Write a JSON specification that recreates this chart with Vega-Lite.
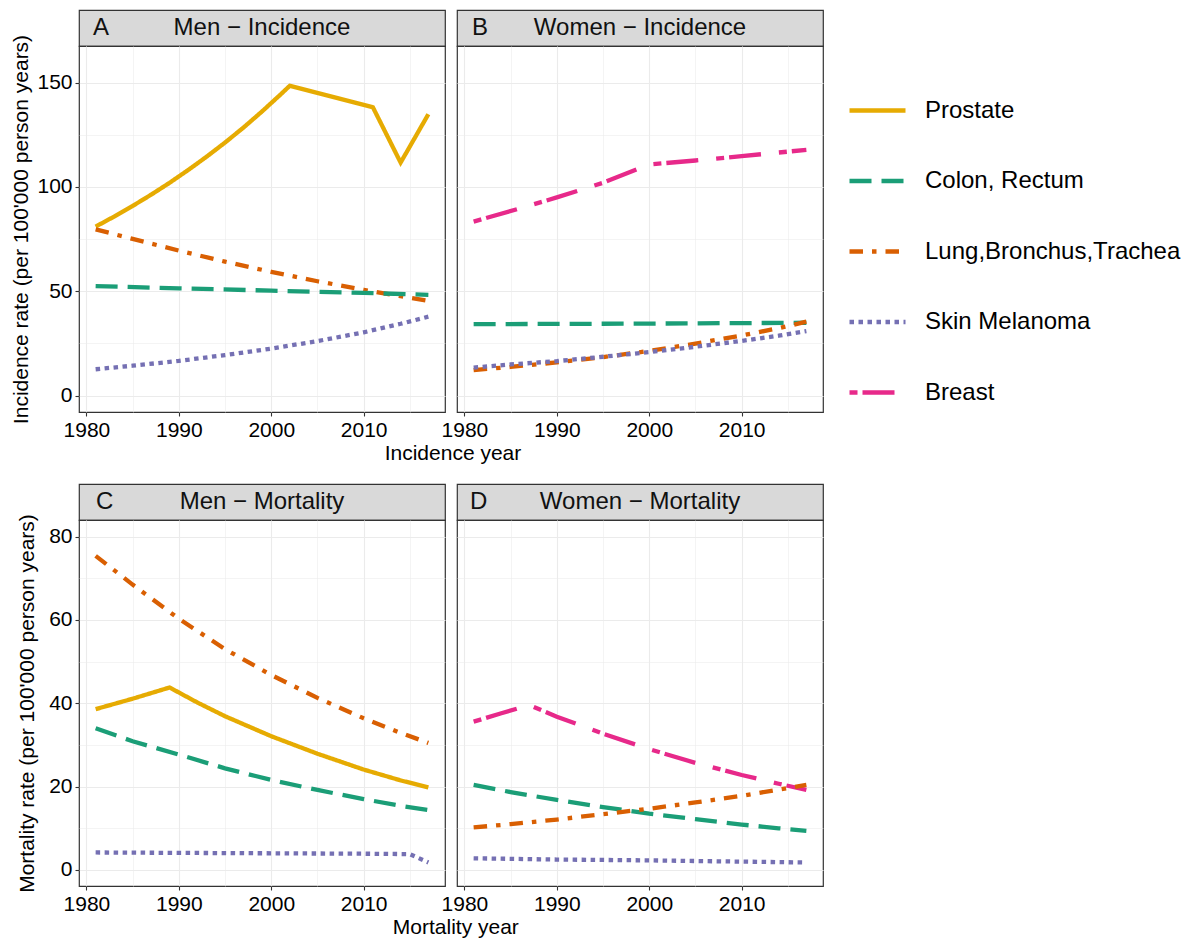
{
  "$schema": "https://vega.github.io/schema/vega-lite/v6.json",
  "padding": {"left": 10, "top": 9, "right": 10, "bottom": 5},
  "background": "white",
  "data": {"values": [
    {"panel":"A","site":"Prostate","year":1981,"rate":81.0},
    {"panel":"A","site":"Prostate","year":1983,"rate":85.8},
    {"panel":"A","site":"Prostate","year":1985,"rate":90.9},
    {"panel":"A","site":"Prostate","year":1987,"rate":96.3},
    {"panel":"A","site":"Prostate","year":1989,"rate":102.0},
    {"panel":"A","site":"Prostate","year":1991,"rate":108.1},
    {"panel":"A","site":"Prostate","year":1993,"rate":114.5},
    {"panel":"A","site":"Prostate","year":1995,"rate":121.3},
    {"panel":"A","site":"Prostate","year":1997,"rate":128.5},
    {"panel":"A","site":"Prostate","year":1999,"rate":136.2},
    {"panel":"A","site":"Prostate","year":2001,"rate":144.3},
    {"panel":"A","site":"Prostate","year":2002,"rate":148.5},
    {"panel":"A","site":"Prostate","year":2011,"rate":138.2},
    {"panel":"A","site":"Prostate","year":2014,"rate":111.7},
    {"panel":"A","site":"Prostate","year":2017,"rate":134.9},
    {"panel":"A","site":"Lung,Bronchus,Trachea","year":1981,"rate":79.7},
    {"panel":"A","site":"Lung,Bronchus,Trachea","year":1985,"rate":75.1},
    {"panel":"A","site":"Lung,Bronchus,Trachea","year":1990,"rate":69.5},
    {"panel":"A","site":"Lung,Bronchus,Trachea","year":1995,"rate":64.2},
    {"panel":"A","site":"Lung,Bronchus,Trachea","year":2000,"rate":59.3},
    {"panel":"A","site":"Lung,Bronchus,Trachea","year":2005,"rate":54.8},
    {"panel":"A","site":"Lung,Bronchus,Trachea","year":2010,"rate":50.7},
    {"panel":"A","site":"Lung,Bronchus,Trachea","year":2014,"rate":47.6},
    {"panel":"A","site":"Lung,Bronchus,Trachea","year":2017,"rate":45.4},
    {"panel":"A","site":"Colon, Rectum","year":1981,"rate":52.5},
    {"panel":"A","site":"Colon, Rectum","year":1990,"rate":51.4},
    {"panel":"A","site":"Colon, Rectum","year":2000,"rate":50.3},
    {"panel":"A","site":"Colon, Rectum","year":2010,"rate":49.2},
    {"panel":"A","site":"Colon, Rectum","year":2017,"rate":48.3},
    {"panel":"A","site":"Skin Melanoma","year":1981,"rate":12.6},
    {"panel":"A","site":"Skin Melanoma","year":1985,"rate":14.3},
    {"panel":"A","site":"Skin Melanoma","year":1990,"rate":16.6},
    {"panel":"A","site":"Skin Melanoma","year":1995,"rate":19.4},
    {"panel":"A","site":"Skin Melanoma","year":2000,"rate":22.5},
    {"panel":"A","site":"Skin Melanoma","year":2005,"rate":26.1},
    {"panel":"A","site":"Skin Melanoma","year":2010,"rate":30.3},
    {"panel":"A","site":"Skin Melanoma","year":2014,"rate":34.4},
    {"panel":"A","site":"Skin Melanoma","year":2017,"rate":37.8},
    {"panel":"B","site":"Breast","year":1981,"rate":83.4},
    {"panel":"B","site":"Breast","year":1986,"rate":89.7},
    {"panel":"B","site":"Breast","year":1990,"rate":95.0},
    {"panel":"B","site":"Breast","year":1995,"rate":102.0},
    {"panel":"B","site":"Breast","year":2000,"rate":110.8},
    {"panel":"B","site":"Breast","year":2005,"rate":112.7},
    {"panel":"B","site":"Breast","year":2010,"rate":114.8},
    {"panel":"B","site":"Breast","year":2017,"rate":117.8},
    {"panel":"B","site":"Colon, Rectum","year":1981,"rate":34.2},
    {"panel":"B","site":"Colon, Rectum","year":2000,"rate":34.5},
    {"panel":"B","site":"Colon, Rectum","year":2017,"rate":34.9},
    {"panel":"B","site":"Lung,Bronchus,Trachea","year":1981,"rate":12.2},
    {"panel":"B","site":"Lung,Bronchus,Trachea","year":1985,"rate":13.7},
    {"panel":"B","site":"Lung,Bronchus,Trachea","year":1990,"rate":15.9},
    {"panel":"B","site":"Lung,Bronchus,Trachea","year":1995,"rate":18.4},
    {"panel":"B","site":"Lung,Bronchus,Trachea","year":2000,"rate":21.4},
    {"panel":"B","site":"Lung,Bronchus,Trachea","year":2005,"rate":24.9},
    {"panel":"B","site":"Lung,Bronchus,Trachea","year":2010,"rate":28.8},
    {"panel":"B","site":"Lung,Bronchus,Trachea","year":2014,"rate":32.3},
    {"panel":"B","site":"Lung,Bronchus,Trachea","year":2017,"rate":35.4},
    {"panel":"B","site":"Skin Melanoma","year":1981,"rate":13.4},
    {"panel":"B","site":"Skin Melanoma","year":1985,"rate":14.9},
    {"panel":"B","site":"Skin Melanoma","year":1990,"rate":16.5},
    {"panel":"B","site":"Skin Melanoma","year":1995,"rate":18.6},
    {"panel":"B","site":"Skin Melanoma","year":2000,"rate":20.8},
    {"panel":"B","site":"Skin Melanoma","year":2005,"rate":23.4},
    {"panel":"B","site":"Skin Melanoma","year":2010,"rate":26.2},
    {"panel":"B","site":"Skin Melanoma","year":2014,"rate":28.7},
    {"panel":"B","site":"Skin Melanoma","year":2017,"rate":30.9},
    {"panel":"C","site":"Lung,Bronchus,Trachea","year":1981,"rate":75.4},
    {"panel":"C","site":"Lung,Bronchus,Trachea","year":1985,"rate":68.5},
    {"panel":"C","site":"Lung,Bronchus,Trachea","year":1990,"rate":60.3},
    {"panel":"C","site":"Lung,Bronchus,Trachea","year":1995,"rate":53.0},
    {"panel":"C","site":"Lung,Bronchus,Trachea","year":2000,"rate":46.8},
    {"panel":"C","site":"Lung,Bronchus,Trachea","year":2005,"rate":41.3},
    {"panel":"C","site":"Lung,Bronchus,Trachea","year":2010,"rate":36.4},
    {"panel":"C","site":"Lung,Bronchus,Trachea","year":2014,"rate":32.9},
    {"panel":"C","site":"Lung,Bronchus,Trachea","year":2017,"rate":30.5},
    {"panel":"C","site":"Prostate","year":1981,"rate":38.6},
    {"panel":"C","site":"Prostate","year":1985,"rate":41.1},
    {"panel":"C","site":"Prostate","year":1989,"rate":43.8},
    {"panel":"C","site":"Prostate","year":1992,"rate":40.2},
    {"panel":"C","site":"Prostate","year":1995,"rate":36.9},
    {"panel":"C","site":"Prostate","year":2000,"rate":32.1},
    {"panel":"C","site":"Prostate","year":2005,"rate":27.9},
    {"panel":"C","site":"Prostate","year":2010,"rate":24.1},
    {"panel":"C","site":"Prostate","year":2014,"rate":21.5},
    {"panel":"C","site":"Prostate","year":2017,"rate":19.8},
    {"panel":"C","site":"Colon, Rectum","year":1981,"rate":34.0},
    {"panel":"C","site":"Colon, Rectum","year":1985,"rate":30.9},
    {"panel":"C","site":"Colon, Rectum","year":1990,"rate":27.7},
    {"panel":"C","site":"Colon, Rectum","year":1995,"rate":24.4},
    {"panel":"C","site":"Colon, Rectum","year":2000,"rate":21.6},
    {"panel":"C","site":"Colon, Rectum","year":2005,"rate":19.2},
    {"panel":"C","site":"Colon, Rectum","year":2010,"rate":17.0},
    {"panel":"C","site":"Colon, Rectum","year":2014,"rate":15.4},
    {"panel":"C","site":"Colon, Rectum","year":2017,"rate":14.4},
    {"panel":"C","site":"Skin Melanoma","year":1981,"rate":4.2},
    {"panel":"C","site":"Skin Melanoma","year":1990,"rate":4.1},
    {"panel":"C","site":"Skin Melanoma","year":2000,"rate":4.0},
    {"panel":"C","site":"Skin Melanoma","year":2010,"rate":3.9},
    {"panel":"C","site":"Skin Melanoma","year":2015,"rate":3.8},
    {"panel":"C","site":"Skin Melanoma","year":2017,"rate":1.8},
    {"panel":"D","site":"Breast","year":1981,"rate":35.6},
    {"panel":"D","site":"Breast","year":1984,"rate":37.6},
    {"panel":"D","site":"Breast","year":1987,"rate":39.6},
    {"panel":"D","site":"Breast","year":1990,"rate":36.8},
    {"panel":"D","site":"Breast","year":1995,"rate":32.7},
    {"panel":"D","site":"Breast","year":2000,"rate":29.0},
    {"panel":"D","site":"Breast","year":2005,"rate":25.7},
    {"panel":"D","site":"Breast","year":2010,"rate":22.8},
    {"panel":"D","site":"Breast","year":2014,"rate":20.7},
    {"panel":"D","site":"Breast","year":2017,"rate":19.2},
    {"panel":"D","site":"Colon, Rectum","year":1981,"rate":20.4},
    {"panel":"D","site":"Colon, Rectum","year":1985,"rate":18.7},
    {"panel":"D","site":"Colon, Rectum","year":1990,"rate":16.8},
    {"panel":"D","site":"Colon, Rectum","year":1995,"rate":15.1},
    {"panel":"D","site":"Colon, Rectum","year":2000,"rate":13.5},
    {"panel":"D","site":"Colon, Rectum","year":2005,"rate":12.2},
    {"panel":"D","site":"Colon, Rectum","year":2010,"rate":10.9},
    {"panel":"D","site":"Colon, Rectum","year":2014,"rate":10.0},
    {"panel":"D","site":"Colon, Rectum","year":2017,"rate":9.4},
    {"panel":"D","site":"Lung,Bronchus,Trachea","year":1981,"rate":10.2},
    {"panel":"D","site":"Lung,Bronchus,Trachea","year":1985,"rate":11.0},
    {"panel":"D","site":"Lung,Bronchus,Trachea","year":1990,"rate":12.1},
    {"panel":"D","site":"Lung,Bronchus,Trachea","year":1995,"rate":13.4},
    {"panel":"D","site":"Lung,Bronchus,Trachea","year":2000,"rate":14.7},
    {"panel":"D","site":"Lung,Bronchus,Trachea","year":2005,"rate":16.2},
    {"panel":"D","site":"Lung,Bronchus,Trachea","year":2010,"rate":17.8},
    {"panel":"D","site":"Lung,Bronchus,Trachea","year":2014,"rate":19.3},
    {"panel":"D","site":"Lung,Bronchus,Trachea","year":2017,"rate":20.4},
    {"panel":"D","site":"Skin Melanoma","year":1981,"rate":2.8},
    {"panel":"D","site":"Skin Melanoma","year":1990,"rate":2.5},
    {"panel":"D","site":"Skin Melanoma","year":2000,"rate":2.3},
    {"panel":"D","site":"Skin Melanoma","year":2010,"rate":2.0},
    {"panel":"D","site":"Skin Melanoma","year":2017,"rate":1.8}
  ]},
  "columns": 1,
  "align": "none",
  "spacing": 19,
  "concat": [
    {
      "title": {"text": "Incidence year", "orient": "bottom", "anchor": "middle", "dx": 36, "offset": 2},
      "spacing": -6,
      "hconcat": [
        {
          "spacing": 0,
          "bounds": "flush",
          "vconcat": [
            {
              "data": {"values": [{"letter": "A", "label": "Men − Incidence"}]},
              "width": 366, "height": 36,
              "view": {"fill": "#D9D9D9", "stroke": "#333333", "strokeWidth": 1.2},
              "layer": [
                {"mark": {"type": "text", "fontSize": 24, "baseline": "middle", "color": "#111111"}, "encoding": {"text": {"field": "label"}}},
                {"mark": {"type": "text", "fontSize": 24, "baseline": "middle", "align": "left", "x": 14, "color": "#111111"}, "encoding": {"text": {"field": "letter"}}}
              ]
            },
            {
              "width": 366, "height": 366,
              "transform": [{"filter": "datum.panel === 'A'"}],
              "mark": {"type": "line", "strokeWidth": 4.3},
              "encoding": {
                "x": {"field": "year", "type": "quantitative", "scale": {"domain": [1979.2, 2018.8], "nice": false, "zero": false},
                      "axis": {"title": null, "format": "d", "values": [1980,1985,1990,1995,2000,2005,2010,2015], "labelExpr": "datum.value % 10 === 0 ? datum.label : ''",
                               "tickOpacity": {"condition": {"test": "datum.value % 10 === 0", "value": 1}, "value": 0},
                               "gridWidth": {"condition": {"test": "datum.value % 10 === 0", "value": 1.1}, "value": 0.55}}},
                "y": {"field": "rate", "type": "quantitative", "scale": {"domain": [-7.9, 167.6], "nice": false, "zero": false},
                      "axis": {"title": "Incidence rate (per 100'000 person years)", "values": [0,25,50,75,100,125,150], "labelExpr": "datum.value % 50 === 0 ? datum.label : ''",
                               "tickOpacity": {"condition": {"test": "datum.value % 50 === 0", "value": 1}, "value": 0},
                               "gridWidth": {"condition": {"test": "datum.value % 50 === 0", "value": 1.1}, "value": 0.55}}},
                "color": {"field": "site", "type": "nominal", "title": null,
                          "scale": {"domain": ["Prostate","Colon, Rectum","Lung,Bronchus,Trachea","Skin Melanoma","Breast"], "range": ["#E6AB02","#1B9E77","#D95F02","#7570B3","#E7298A"]}},
                "strokeDash": {"field": "site", "type": "nominal", "title": null,
                          "scale": {"domain": ["Prostate","Colon, Rectum","Lung,Bronchus,Trachea","Skin Melanoma","Breast"], "range": [[1,0],[22,10],[13.5,9,4.5,9],[4.5,4.5],[8,5,32,18]]}}
              }
            }
          ]
        },
        {
          "spacing": 0,
          "bounds": "flush",
          "vconcat": [
            {
              "data": {"values": [{"letter": "B", "label": "Women − Incidence"}]},
              "width": 366, "height": 36,
              "view": {"fill": "#D9D9D9", "stroke": "#333333", "strokeWidth": 1.2},
              "layer": [
                {"mark": {"type": "text", "fontSize": 24, "baseline": "middle", "color": "#111111"}, "encoding": {"text": {"field": "label"}}},
                {"mark": {"type": "text", "fontSize": 24, "baseline": "middle", "align": "left", "x": 15, "color": "#111111"}, "encoding": {"text": {"field": "letter"}}}
              ]
            },
            {
              "width": 366, "height": 366,
              "transform": [{"filter": "datum.panel === 'B'"}],
              "mark": {"type": "line", "strokeWidth": 4.3},
              "encoding": {
                "x": {"field": "year", "type": "quantitative", "scale": {"domain": [1979.2, 2018.8], "nice": false, "zero": false},
                      "axis": {"title": null, "format": "d", "values": [1980,1985,1990,1995,2000,2005,2010,2015], "labelExpr": "datum.value % 10 === 0 ? datum.label : ''",
                               "tickOpacity": {"condition": {"test": "datum.value % 10 === 0", "value": 1}, "value": 0},
                               "gridWidth": {"condition": {"test": "datum.value % 10 === 0", "value": 1.1}, "value": 0.55}}},
                "y": {"field": "rate", "type": "quantitative", "scale": {"domain": [-7.9, 167.6], "nice": false, "zero": false},
                      "axis": {"title": null, "labels": false, "ticks": false, "minExtent": 0, "maxExtent": 0, "values": [0,25,50,75,100,125,150],
                               "gridWidth": {"condition": {"test": "datum.value % 50 === 0", "value": 1.1}, "value": 0.55}}},
                "color": {"field": "site", "type": "nominal", "title": null,
                          "scale": {"domain": ["Prostate","Colon, Rectum","Lung,Bronchus,Trachea","Skin Melanoma","Breast"], "range": ["#E6AB02","#1B9E77","#D95F02","#7570B3","#E7298A"]}},
                "strokeDash": {"field": "site", "type": "nominal", "title": null,
                          "scale": {"domain": ["Prostate","Colon, Rectum","Lung,Bronchus,Trachea","Skin Melanoma","Breast"], "range": [[1,0],[22,10],[13.5,9,4.5,9],[4.5,4.5],[8,5,32,18]]}}
              }
            }
          ]
        }
      ]
    },
    {
      "title": {"text": "Mortality year", "orient": "bottom", "anchor": "middle", "dx": 36, "offset": 2},
      "spacing": -6,
      "hconcat": [
        {
          "spacing": 0,
          "bounds": "flush",
          "vconcat": [
            {
              "data": {"values": [{"letter": "C", "label": "Men − Mortality"}]},
              "width": 366, "height": 36,
              "view": {"fill": "#D9D9D9", "stroke": "#333333", "strokeWidth": 1.2},
              "layer": [
                {"mark": {"type": "text", "fontSize": 24, "baseline": "middle", "color": "#111111"}, "encoding": {"text": {"field": "label"}}},
                {"mark": {"type": "text", "fontSize": 24, "baseline": "middle", "align": "left", "x": 17, "color": "#111111"}, "encoding": {"text": {"field": "letter"}}}
              ]
            },
            {
              "width": 366, "height": 366,
              "transform": [{"filter": "datum.panel === 'C'"}],
              "mark": {"type": "line", "strokeWidth": 4.3},
              "encoding": {
                "x": {"field": "year", "type": "quantitative", "scale": {"domain": [1979.2, 2018.8], "nice": false, "zero": false},
                      "axis": {"title": null, "format": "d", "values": [1980,1985,1990,1995,2000,2005,2010,2015], "labelExpr": "datum.value % 10 === 0 ? datum.label : ''",
                               "tickOpacity": {"condition": {"test": "datum.value % 10 === 0", "value": 1}, "value": 0},
                               "gridWidth": {"condition": {"test": "datum.value % 10 === 0", "value": 1.1}, "value": 0.55}}},
                "y": {"field": "rate", "type": "quantitative", "scale": {"domain": [-3.85, 84], "nice": false, "zero": false},
                      "axis": {"title": "Mortality rate (per 100'000 person years)", "titlePadding": 11, "values": [0,10,20,30,40,50,60,70,80], "labelExpr": "datum.value % 20 === 0 ? datum.label : ''",
                               "tickOpacity": {"condition": {"test": "datum.value % 20 === 0", "value": 1}, "value": 0},
                               "gridWidth": {"condition": {"test": "datum.value % 20 === 0", "value": 1.1}, "value": 0.55}}},
                "color": {"field": "site", "type": "nominal", "title": null,
                          "scale": {"domain": ["Prostate","Colon, Rectum","Lung,Bronchus,Trachea","Skin Melanoma","Breast"], "range": ["#E6AB02","#1B9E77","#D95F02","#7570B3","#E7298A"]}},
                "strokeDash": {"field": "site", "type": "nominal", "title": null,
                          "scale": {"domain": ["Prostate","Colon, Rectum","Lung,Bronchus,Trachea","Skin Melanoma","Breast"], "range": [[1,0],[22,10],[13.5,9,4.5,9],[4.5,4.5],[8,5,32,18]]}}
              }
            }
          ]
        },
        {
          "spacing": 0,
          "bounds": "flush",
          "vconcat": [
            {
              "data": {"values": [{"letter": "D", "label": "Women − Mortality"}]},
              "width": 366, "height": 36,
              "view": {"fill": "#D9D9D9", "stroke": "#333333", "strokeWidth": 1.2},
              "layer": [
                {"mark": {"type": "text", "fontSize": 24, "baseline": "middle", "color": "#111111"}, "encoding": {"text": {"field": "label"}}},
                {"mark": {"type": "text", "fontSize": 24, "baseline": "middle", "align": "left", "x": 13, "color": "#111111"}, "encoding": {"text": {"field": "letter"}}}
              ]
            },
            {
              "width": 366, "height": 366,
              "transform": [{"filter": "datum.panel === 'D'"}],
              "mark": {"type": "line", "strokeWidth": 4.3},
              "encoding": {
                "x": {"field": "year", "type": "quantitative", "scale": {"domain": [1979.2, 2018.8], "nice": false, "zero": false},
                      "axis": {"title": null, "format": "d", "values": [1980,1985,1990,1995,2000,2005,2010,2015], "labelExpr": "datum.value % 10 === 0 ? datum.label : ''",
                               "tickOpacity": {"condition": {"test": "datum.value % 10 === 0", "value": 1}, "value": 0},
                               "gridWidth": {"condition": {"test": "datum.value % 10 === 0", "value": 1.1}, "value": 0.55}}},
                "y": {"field": "rate", "type": "quantitative", "scale": {"domain": [-3.85, 84], "nice": false, "zero": false},
                      "axis": {"title": null, "labels": false, "ticks": false, "minExtent": 0, "maxExtent": 0, "values": [0,10,20,30,40,50,60,70,80],
                               "gridWidth": {"condition": {"test": "datum.value % 20 === 0", "value": 1.1}, "value": 0.55}}},
                "color": {"field": "site", "type": "nominal", "title": null,
                          "scale": {"domain": ["Prostate","Colon, Rectum","Lung,Bronchus,Trachea","Skin Melanoma","Breast"], "range": ["#E6AB02","#1B9E77","#D95F02","#7570B3","#E7298A"]}},
                "strokeDash": {"field": "site", "type": "nominal", "title": null,
                          "scale": {"domain": ["Prostate","Colon, Rectum","Lung,Bronchus,Trachea","Skin Melanoma","Breast"], "range": [[1,0],[22,10],[13.5,9,4.5,9],[4.5,4.5],[8,5,32,18]]}}
              }
            }
          ]
        }
      ]
    }
  ],
  "config": {
    "font": "Liberation Sans",
    "view": {"stroke": "#333333", "strokeWidth": 1.2},
    "title": {"font": "Liberation Sans", "fontSize": 21, "fontWeight": "normal", "color": "#000000"},
    "axis": {"labelFont": "Liberation Sans", "titleFont": "Liberation Sans", "labelFontSize": 21, "titleFontSize": 21, "titleFontWeight": "normal",
             "labelColor": "#000000", "titleColor": "#000000", "tickColor": "#333333", "tickSize": 4, "tickWidth": 1.1, "domain": false,
             "gridColor": "#EBEBEB", "labelPadding": 3, "titlePadding": 5, "labelFlush": false, "labelOverlap": false},
    "legend": {"orient": "none", "legendX": 768, "legendY": 70, "symbolType": "stroke", "symbolSize": 3136, "symbolStrokeWidth": 4.3,
               "labelFontSize": 24, "labelFont": "Liberation Sans", "labelColor": "#000000", "rowPadding": 27.5, "labelOffset": 17,
               "padding": 0, "labelLimit": 400}
  }
}
